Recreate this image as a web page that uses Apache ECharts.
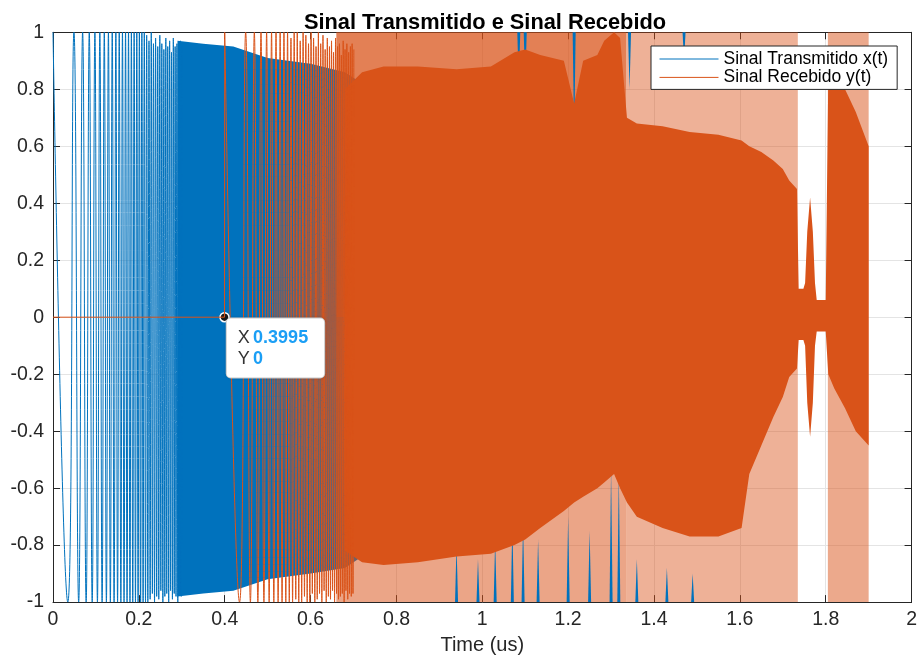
<!DOCTYPE html>
<html>
<head>
<meta charset="utf-8">
<script src="https://cdn.jsdelivr.net/npm/echarts@6/dist/echarts.min.js"></script>
<style>html,body{margin:0;padding:0;background:#fff}#c{width:920px;height:660px}</style>
</head>
<body>
<div id="c"></div>
<script>
// ---------- data ----------
const titleText = 'Sinal Transmitido e Sinal Recebido';
const xName = 'Time (us)';
const nameTx = 'Sinal Transmitido x(t)';
const nameRx = 'Sinal Recebido y(t)';

// resolved extremes of the transmitted chirp (time, value)
const txPeakT = [0, 0.0345, 0.0488, 0.0598, 0.0690, 0.0772, 0.0845, 0.0913, 0.0976, 0.1035, 0.1091, 0.1144, 0.1195, 0.1244, 0.1291, 0.1336, 0.1380, 0.1423, 0.1464, 0.1504, 0.1543, 0.1581, 0.1618, 0.1655, 0.1690, 0.1725, 0.1759, 0.1793, 0.1826, 0.1858, 0.1890, 0.1921, 0.1952, 0.1982, 0.2012, 0.2041, 0.2070, 0.2099, 0.2127, 0.2155, 0.2182, 0.2209, 0.2236, 0.2263, 0.2289, 0.2315, 0.2340, 0.2365, 0.2390, 0.2415, 0.2440, 0.2464, 0.2488, 0.2512, 0.2535, 0.2559, 0.2582, 0.2605, 0.2628, 0.2650, 0.2673, 0.2695, 0.2717, 0.2739, 0.2760, 0.2782, 0.2803, 0.2824, 0.2845, 0.2866, 0.2887, 0.2907, 0.2928, 0.2948, 0.2968, 0.2988, 0.3008];
const txPeakY = [1, -1, 1, -1, 1, -1, 1, -1, 1, -1, 1, -1, 1, -1, 1, -1, 1, -1, 1, -1, 1, -1, 1, -1, 1, -1, 1, -1, 1, -1, 1, -1, 1, -1, 1, -1, 1, -1, 1, -1, 0.99, -1, 0.97, -0.99, 1, -0.97, 0.96, -1, 0.98, -0.98, 0.95, -0.99, 0.99, -0.96, 0.96, -1, 0.94, -0.98, 0.98, -0.97, 0.95, -1, 0.97, -0.96, 0.93, -0.99, 0.98, -0.97, 0.95, -0.98, 0.96, -1, 0.94, -0.97, 0.97, -0.98, 0.95];

// dense part of the transmitted signal: envelope (hidden beyond ~0.75)
const txBandT = [0.29, 0.35, 0.42, 0.5, 0.6, 0.68, 0.72, 0.75];
const txBandU = [0.97, 0.96, 0.95, 0.91, 0.89, 0.86, 0.82, 0.8];
const txBandL = [-0.98, -0.97, -0.96, -0.92, -0.9, -0.88, -0.84, -0.8];

// blue spikes still visible inside the received band (time, tip value)
const txSpikeT = [0.94, 0.99, 1.03, 1.07, 1.095, 1.13, 1.20, 1.25, 1.30, 1.318, 1.36, 1.43, 1.49, 1.085, 1.10, 1.214, 1.343, 1.47];
const txSpikeTip = [-0.8, -0.85, -0.78, -0.72, -0.72, -0.78, -0.7, -0.75, -0.53, -0.55, -0.85, -0.88, -0.9, 0.82, 0.8, 0.62, 0.8, 0.9];

// received signal: silent part before the onset
const rxSilentT = [0, 0.3995, 0.4];
const rxSilentY = [0, 0, 1];

// resolved extremes of the received chirp
const rxPeakT = [0.4, 0.4345, 0.4488, 0.4598, 0.4690, 0.4772, 0.4845, 0.4913, 0.4976, 0.5035, 0.5091, 0.5144, 0.5195, 0.5244, 0.5291, 0.5336, 0.5380, 0.5423, 0.5464, 0.5504, 0.5543, 0.5581, 0.5618, 0.5655, 0.5690, 0.5725, 0.5759, 0.5793, 0.5826, 0.5858, 0.5890, 0.5921, 0.5952, 0.5982, 0.6012, 0.6041, 0.6070, 0.6099, 0.6127, 0.6155, 0.6182, 0.6209, 0.6236, 0.6263, 0.6289, 0.6315, 0.6340, 0.6365, 0.6390, 0.6415, 0.6440, 0.6464, 0.6488, 0.6512, 0.6535, 0.6559, 0.6582, 0.6605, 0.6628, 0.6650, 0.6673, 0.6695, 0.6717, 0.6739, 0.6760, 0.6782, 0.6803, 0.6824, 0.6845, 0.6866, 0.6887, 0.6907, 0.6928, 0.6948, 0.6968, 0.6988, 0.7008];
const rxPeakY = [1, -1, 1, -1, 1, -1, 1, -1, 1, -1, 1, -1, 1, -1, 1, -1, 1, -1, 1, -1, 0.98, -1, 1, -0.99, 1, -1, 0.97, -1, 1, -0.98, 0.99, -1, 0.96, -1, 1, -0.97, 0.98, -1, 0.95, -0.99, 1, -0.97, 0.96, -1, 0.99, -0.96, 0.94, -1, 0.98, -0.98, 0.95, -0.99, 0.97, -0.96, 0.93, -1, 0.98, -0.97, 0.95, -0.99, 0.96, -0.98, 0.92, -0.97, 0.97, -1, 0.94, -0.96, 0.96, -0.99, 0.93, -0.97, 0.95, -0.98, 0.96, -0.97, 0.94];

// dense part of the received signal: solid envelope
const rxBandT = [0.68, 0.72, 0.77, 0.85, 0.94, 1.02, 1.075, 1.10, 1.135, 1.19, 1.214, 1.235, 1.268, 1.284, 1.307, 1.321, 1.337, 1.36, 1.42, 1.483, 1.55, 1.604, 1.622, 1.65, 1.678, 1.70, 1.715, 1.733, 1.737, 1.748, 1.752, 1.757, 1.7636, 1.770, 1.775, 1.779, 1.800, 1.806, 1.82, 1.845, 1.87, 1.90];
const rxBandU = [0.8, 0.86, 0.88, 0.88, 0.87, 0.88, 0.93, 0.94, 0.92, 0.9, 0.75, 0.9, 0.92, 0.97, 1.0, 0.98, 0.7, 0.68, 0.67, 0.65, 0.64, 0.62, 0.6, 0.58, 0.55, 0.52, 0.48, 0.45, 0.1, 0.1, 0.12, 0.3, 0.42, 0.3, 0.12, 0.06, 0.06, 0.85, 0.85, 0.8, 0.72, 0.6];
const rxBandL = [-0.82, -0.86, -0.87, -0.86, -0.84, -0.83, -0.8, -0.78, -0.74, -0.68, -0.65, -0.63, -0.6, -0.58, -0.55, -0.6, -0.65, -0.7, -0.74, -0.77, -0.77, -0.74, -0.55, -0.45, -0.35, -0.28, -0.21, -0.18, -0.08, -0.08, -0.1, -0.3, -0.42, -0.3, -0.1, -0.05, -0.05, -0.2, -0.25, -0.32, -0.4, -0.45];

// thin spikes reaching the full range around the solid envelope (time spans)
const rxSpikeSpanA = [0.66, 1.335];
const rxSpikeSpanB = [1.335, 1.735];
const rxSpikeSpanC = [1.805, 1.90];

// data tip
const tipX = 0.3995;
const tipY = 0;

// axis ticks
const xMin = 0, xMax = 2, xStep = 0.2;
const yMin = -1, yMax = 1, yStep = 0.2;

// ---------- chart ----------
const BLUE = '#0072BD';
const ORANGE = '#D95319';
const FONT = "'Liberation Sans', Arial, Helvetica, sans-serif";
const AXC = '#262626';

function pairs(T, Y) { return T.map((t, i) => [t, Y[i]]); }

function band(name, T, U, L, fill) {
  return {
    type: 'custom', name: name, silent: true,
    data: [[T[0], U[0]]],
    encode: { x: 0, y: 1 },
    renderItem: function (params, api) {
      const pts = [];
      for (let i = 0; i < T.length; i++) pts.push(api.coord([T[i], U[i]]));
      for (let i = T.length - 1; i >= 0; i--) pts.push(api.coord([T[i], L[i]]));
      return { type: 'polygon', shape: { points: pts }, style: { fill: fill } };
    }
  };
}
function span(name, S, hi, lo, fill) {
  return band(name, S, [hi, hi], [lo, lo], fill);
}

const spikeSeries = {
  type: 'custom', name: 'txSpikes', silent: true,
  data: pairs(txSpikeT, txSpikeTip),
  encode: { x: 0, y: 1 },
  renderItem: function (params, api) {
    const t = api.value(0), tip = api.value(1);
    const base = tip > 0 ? yMax : yMin;
    const a = api.coord([t, tip]);
    const b = api.coord([t, base]);
    return {
      type: 'polygon',
      shape: { points: [[b[0] - 1.5, b[1]], a, [b[0] + 1.5, b[1]]] },
      style: { fill: BLUE }
    };
  }
};

const chart = echarts.init(document.getElementById('c'), null, { renderer: 'canvas' });

const axisCommon = {
  type: 'value',
  axisLine: { show: true, onZero: false, lineStyle: { color: AXC, width: 1 } },
  axisTick: { show: true, inside: true, length: 7, lineStyle: { color: AXC } }
};

chart.setOption({
  animation: false,
  backgroundColor: '#fff',
  title: {
    text: titleText, left: 480, top: 7, textAlign: 'center',
    textStyle: { fontFamily: FONT, fontSize: 21.8, fontWeight: 'bold', color: '#000' }
  },
  legend: {
    data: [nameTx, nameRx],
    orient: 'vertical', left: 651, top: 46,
    padding: [4, 9, 3, 8], itemGap: 0.4,
    itemWidth: 59, itemHeight: 14,
    backgroundColor: '#fff', borderColor: AXC, borderWidth: 1,
    itemStyle: { opacity: 0 },
    lineStyle: { width: 1 },
    textStyle: { fontFamily: FONT, fontSize: 17.5, color: '#000', lineHeight: 18 }
  },
  grid: { left: 53, right: 3.5, top: 32.3, bottom: 54, containLabel: false },
  xAxis: [
    Object.assign({}, axisCommon, {
      min: xMin, max: xMax, interval: xStep,
      axisLabel: { fontFamily: FONT, fontSize: 19.5, color: AXC, margin: 8 },
      splitLine: { show: true, lineStyle: { color: '#e4e4e4', width: 1 } },
      name: xName, nameLocation: 'middle', nameGap: 31,
      nameTextStyle: { fontFamily: FONT, fontSize: 20, color: AXC }
    }),
    Object.assign({}, axisCommon, {
      position: 'top', min: xMin, max: xMax, interval: xStep,
      axisLabel: { show: false }, splitLine: { show: false }
    })
  ],
  yAxis: [
    Object.assign({}, axisCommon, {
      min: yMin, max: yMax, interval: yStep,
      axisLabel: { fontFamily: FONT, fontSize: 19.5, color: AXC, margin: 9 },
      splitLine: { show: true, lineStyle: { color: '#e4e4e4', width: 1 } }
    }),
    Object.assign({}, axisCommon, {
      position: 'right', min: yMin, max: yMax, interval: yStep,
      axisLabel: { show: false }, splitLine: { show: false }
    })
  ],
  series: [
    {
      type: 'line', name: nameTx, data: pairs(txPeakT, txPeakY),
      symbol: 'none', smooth: 0.5, silent: true,
      lineStyle: { color: BLUE, width: 1 }, itemStyle: { color: BLUE }
    },
    band('txBand', txBandT, txBandU, txBandL, BLUE),
    span('rxSpikeA_top', rxSpikeSpanA, yMax, 0, 'rgba(217,83,25,0.74)'),
    span('rxSpikeA_bot', rxSpikeSpanA, 0, yMin, 'rgba(217,83,25,0.52)'),
    span('rxSpikeB', rxSpikeSpanB, yMax, yMin, 'rgba(217,83,25,0.45)'),
    span('rxSpikeC', rxSpikeSpanC, yMax, yMin, 'rgba(217,83,25,0.5)'),
    spikeSeries,
    band('rxBand', rxBandT, rxBandU, rxBandL, ORANGE),
    {
      type: 'line', name: nameRx, data: pairs(rxPeakT, rxPeakY),
      symbol: 'none', smooth: 0.5, silent: true,
      lineStyle: { color: ORANGE, width: 1 }, itemStyle: { color: ORANGE }
    },
    {
      type: 'line', name: nameRx, data: pairs(rxSilentT, rxSilentY),
      symbol: 'none', smooth: false, silent: true, z: 5,
      lineStyle: { color: ORANGE, width: 1 }, itemStyle: { color: ORANGE },
      markPoint: {
        silent: true, animation: false,
        symbol: 'circle', symbolSize: 9,
        itemStyle: { color: '#1a1a1a', borderColor: '#ffffff', borderWidth: 1.5 },
        data: [{ coord: [tipX, tipY] }],
        label: {
          show: true, position: [7.5, 6.5], align: 'left', verticalAlign: 'top',
          formatter: '{k|X} {v|' + tipX + '}\n{k|Y} {v|' + tipY + '}',
          backgroundColor: '#ffffff', borderColor: '#d4d4d4', borderWidth: 1, borderRadius: 4,
          padding: [9, 16, 8, 11],
          shadowColor: 'rgba(0,0,0,0.12)', shadowBlur: 3,
          rich: {
            k: { fontFamily: FONT, fontSize: 18, color: '#333333', lineHeight: 21 },
            v: { fontFamily: FONT, fontSize: 18, fontWeight: 'bold', color: '#1a9ef5', lineHeight: 21 }
          }
        }
      }
    }
  ]
});
</script>
</body>
</html>
